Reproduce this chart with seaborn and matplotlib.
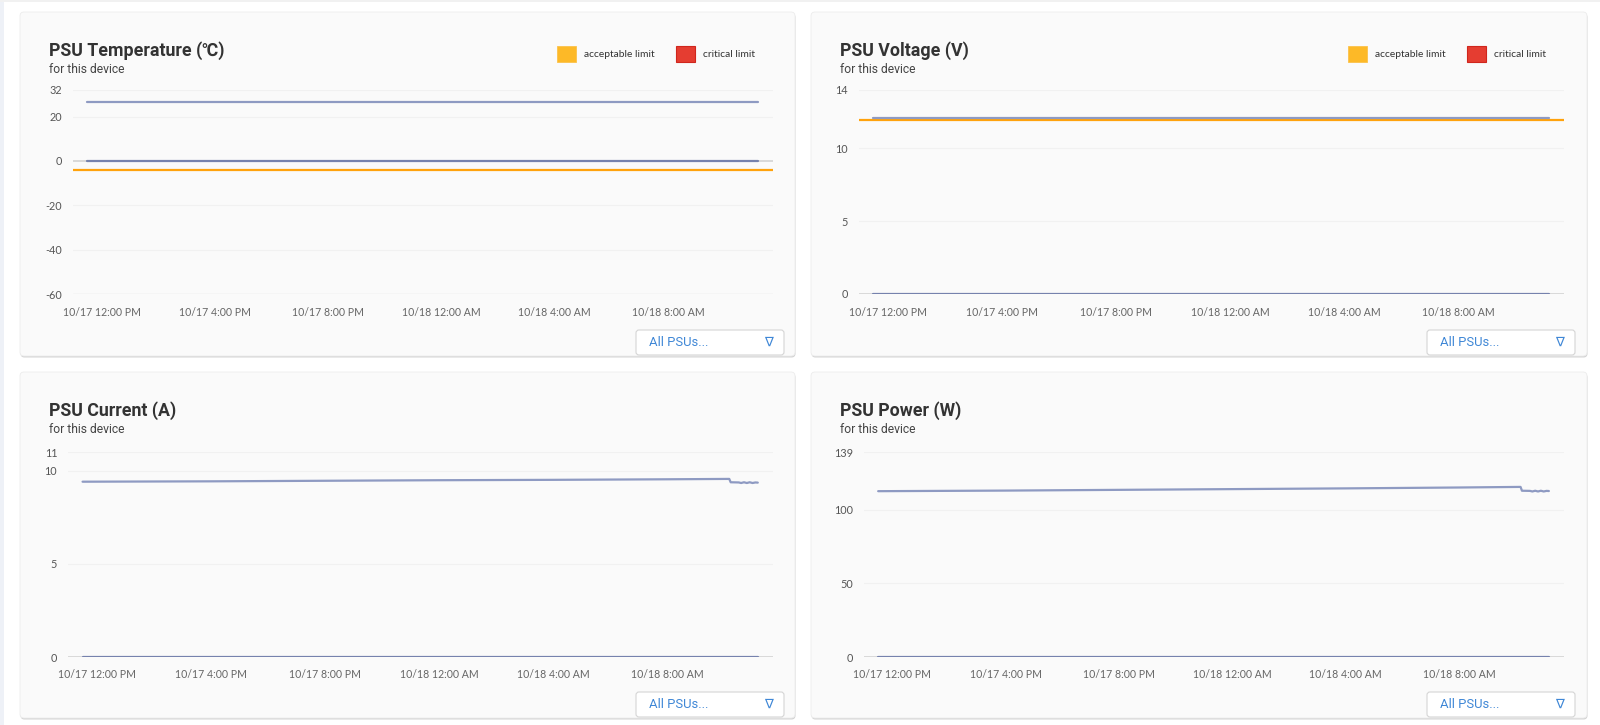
"""PSU dashboard - four small line panels (temperature, voltage, current, power)."""
import matplotlib

matplotlib.use("Agg")
import matplotlib.dates as mdates
import matplotlib.pyplot as plt
import pandas as pd
import seaborn as sns
from matplotlib.patches import FancyBboxPatch, Rectangle
from matplotlib.ticker import FixedLocator, FuncFormatter

sns.set_theme(style="white")
plt.rcParams["font.family"] = ["Lato", "DejaVu Sans"]

W, H = 1600, 725

# ---- data ----
titles = ["PSU Temperature (℃)", "PSU Voltage (V)", "PSU Current (A)", "PSU Power (W)"]
subtitle = "for this device"
legend_labels = ["acceptable limit", "critical limit"]
dropdown_label = "All PSUs..."
psu_names = ["PSU 1", "PSU 2"]

flat_times = ["2023-10-17 11:30", "2023-10-18 11:10"]
temp_psu1 = [26.7, 26.7]
temp_psu2 = [0, 0]
temp_acceptable = -4.3

volt_psu1 = [12.08, 12.08]
volt_psu2 = [0, 0]
volt_acceptable = 11.95

load_times = ["2023-10-17 11:30", "2023-10-17 16:00", "2023-10-17 20:00",
              "2023-10-18 00:00", "2023-10-18 04:00", "2023-10-18 08:00",
              "2023-10-18 10:10", "2023-10-18 10:13", "2023-10-18 10:30",
              "2023-10-18 10:35", "2023-10-18 10:41", "2023-10-18 10:47",
              "2023-10-18 10:53", "2023-10-18 10:59", "2023-10-18 11:05",
              "2023-10-18 11:10"]
current_psu1 = [9.42, 9.44, 9.47, 9.50, 9.52, 9.55, 9.57, 9.39, 9.38,
                9.35, 9.39, 9.35, 9.39, 9.35, 9.38, 9.37]
current_psu2 = [0, 0]
power_psu1 = [112.6, 113.0, 113.5, 114.0, 114.5, 115.1, 115.5, 112.9, 112.8,
              112.4, 112.9, 112.4, 112.9, 112.4, 112.8, 112.7]
power_psu2 = [0, 0]

x_range = ["2023-10-17 11:00", "2023-10-18 11:42"]
x_ticks = ["2023-10-17 12:00", "2023-10-17 16:00", "2023-10-17 20:00",
           "2023-10-18 00:00", "2023-10-18 04:00", "2023-10-18 08:00"]

temp_ticks = [32, 20, 0, -20, -40, -60]
volt_ticks = [14, 10, 5, 0]
current_ticks = [11, 10, 5, 0]
power_ticks = [139, 100, 50, 0]

LINE_COLORS = {"PSU 1": "#8e9ac2", "PSU 2": "#7682ad"}
ORANGE = "#ffa20c"
TXT = "#333333"


def frame(times1, vals1, times2, vals2):
    a = pd.DataFrame({"time": pd.to_datetime(times1), "value": vals1, "psu": psu_names[0]})
    b = pd.DataFrame({"time": pd.to_datetime(times2), "value": vals2, "psu": psu_names[1]})
    return pd.concat([a, b], ignore_index=True)


panels = [
    dict(title=titles[0], df=frame(flat_times, temp_psu1, flat_times, temp_psu2),
         ticks=temp_ticks, limit=temp_acceptable, legend=True,
         card=(20, 12, 795, 356), ax=(73.3, 773, 90, 294)),
    dict(title=titles[1], df=frame(flat_times, volt_psu1, flat_times, volt_psu2),
         ticks=volt_ticks, limit=volt_acceptable, legend=True,
         card=(811, 12, 1587, 356), ax=(859, 1564, 90, 294)),
    dict(title=titles[2], df=frame(load_times, current_psu1, flat_times, current_psu2),
         ticks=current_ticks, limit=None, legend=False,
         card=(20, 372, 795, 718), ax=(68.3, 773, 452.3, 657)),
    dict(title=titles[3], df=frame(load_times, power_psu1, flat_times, power_psu2),
         ticks=power_ticks, limit=None, legend=False,
         card=(811, 372, 1587, 718), ax=(864, 1564, 452.3, 657)),
]


def time_label(x, pos):
    d = mdates.num2date(x)
    h = d.hour % 12 or 12
    return f"{d.month}/{d.day} {h}:{d.minute:02d} {'AM' if d.hour < 12 else 'PM'}"


fig = plt.figure(figsize=(W / 100, H / 100), dpi=100, facecolor="white")
bg = fig.add_axes([0, 0, 1, 1], zorder=0)
bg.set_xlim(0, W)
bg.set_ylim(H, 0)
bg.axis("off")
bg.add_patch(Rectangle((0, 0), 4, H, color="#eef1f7", lw=0))
bg.add_patch(Rectangle((0, 0), W, 2, color="#f1f1f1", lw=0))

for p in panels:
    l, t, r, b = p["card"]
    # shadow + card
    bg.add_patch(FancyBboxPatch((l + 0.5, t + 1.5), r - l, b - t,
                                boxstyle="round,pad=0,rounding_size=4",
                                fc="#d4d4d4", ec="none"))
    bg.add_patch(FancyBboxPatch((l, t), r - l, b - t,
                                boxstyle="round,pad=0,rounding_size=4",
                                fc="#fafafa", ec="#ececec", lw=0.6))
    bg.text(l + 29, t + 44, p["title"], fontsize=12.8, fontweight="bold",
            color=TXT, va="baseline", family=["Roboto", "Noto Sans CJK SC", "DejaVu Sans"])
    bg.text(l + 29, t + 60.5, subtitle, fontsize=8.7, color="#444444",
            va="baseline", family=["Roboto", "DejaVu Sans"])

    if p["legend"]:
        bg.add_patch(Rectangle((l + 537, t + 34), 19, 16, fc="#fdb927", ec="#fcc24a", lw=0.6))
        bg.text(l + 564, t + 42.5, legend_labels[0], fontsize=7.4, color=TXT, va="center")
        bg.add_patch(Rectangle((l + 656, t + 34), 19, 16, fc="#e53d31", ec="#d0261d", lw=0.8))
        bg.text(l + 683, t + 42.5, legend_labels[1], fontsize=7.4, color=TXT, va="center")

    # "All PSUs..." dropdown
    bg.add_patch(FancyBboxPatch((l + 616, b - 26), 148, 25,
                                boxstyle="round,pad=0,rounding_size=3",
                                fc="white", ec="#d5d5d5", lw=0.8))
    bg.text(l + 629, b - 13.5, dropdown_label, fontsize=9.4, color="#3f87d6",
            va="center", family=["Roboto", "DejaVu Sans"])
    bg.text(l + 748, b - 13.5, "∇", fontsize=9.5, color="#3f87d6",
            va="center", ha="center", family=["DejaVu Sans"])

    # chart area
    al, ar, at, ab = p["ax"]
    ax = fig.add_axes([al / W, 1 - ab / H, (ar - al) / W, (ab - at) / H], zorder=2)
    ax.set_facecolor("none")
    ticks = p["ticks"]
    lo, hi = min(ticks), max(ticks)
    for v in ticks:
        if v == 0:
            ax.axhline(v, color="#cfcfcf", lw=1.1, zorder=1)
        elif v == lo:
            ax.axhline(v, color="#e3e3e3", lw=1.0, zorder=1)
        else:
            ax.axhline(v, color="#f1f1f1", lw=0.8, zorder=1)
    if p["limit"] is not None:
        ax.axhline(p["limit"], color=ORANGE, lw=1.6, zorder=2)

    sns.lineplot(data=p["df"], x="time", y="value", hue="psu", palette=LINE_COLORS,
                 linewidth=1.6, legend=False, ax=ax, zorder=3)

    ax.set_xlim(pd.to_datetime(x_range[0]), pd.to_datetime(x_range[1]))
    ax.set_ylim(lo, hi)
    ax.xaxis.set_major_locator(FixedLocator(mdates.date2num(pd.to_datetime(x_ticks))))
    ax.xaxis.set_major_formatter(FuncFormatter(time_label))
    ax.yaxis.set_major_locator(FixedLocator(ticks))
    ax.yaxis.set_major_formatter(FuncFormatter(lambda v, pos: f"{v:g}"))
    ax.tick_params(axis="x", length=0, pad=9, labelsize=7.6, colors="#666666")
    ax.tick_params(axis="y", length=0, pad=8, labelsize=7.8, colors="#555555")
    ax.set_xlabel("")
    ax.set_ylabel("")
    for s in ax.spines.values():
        s.set_visible(False)
    ax.grid(False)

fig.savefig("out.png", dpi=100, facecolor=fig.get_facecolor())
